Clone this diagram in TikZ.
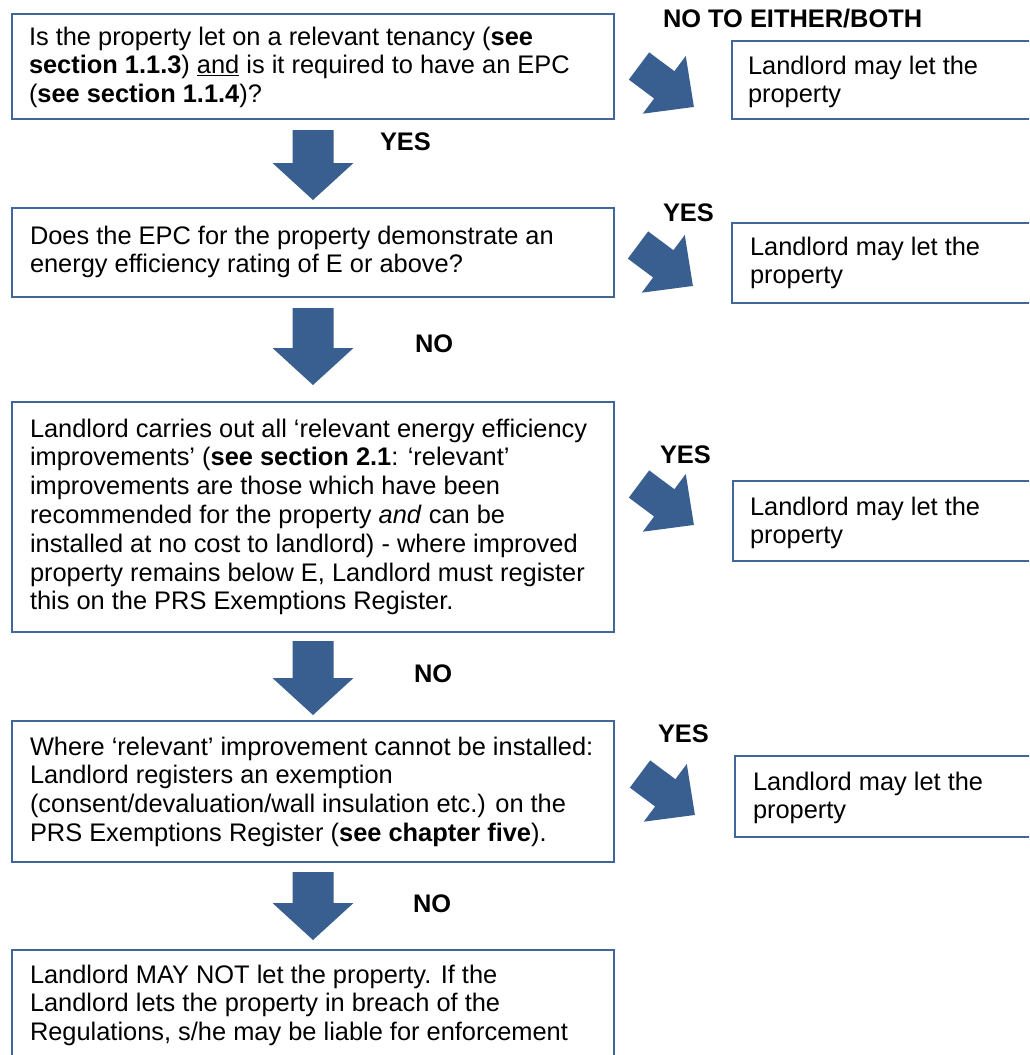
\documentclass[tikz,border=0pt]{standalone}
\usepackage{fontspec}
\setmainfont{Liberation Sans}
\usetikzlibrary{calc}
\definecolor{boxblue}{RGB}{65,103,154}
\definecolor{arrowblue}{RGB}{56,95,143}
\tikzset{
  box/.style={draw=boxblue, line width=2.5pt, rectangle, inner sep=0pt, outer sep=0pt, anchor=north west},
  txt/.style={anchor=north west, inner sep=0pt, outer sep=0pt, align=left, font=\fontsize{25.4}{28.8}\selectfont},
  lbl/.style={anchor=base west, inner sep=0pt, outer sep=0pt, font=\fontsize{25.4}{28.8}\selectfont\bfseries},
  pics/diagarrow/.style={code={\fill[arrowblue] (0,-17) -- (31.5,-17) -- (31.5,-36) -- (68.5,0) -- (31.5,36) -- (31.5,17) -- (0,17) -- cycle;}}
}
\newcommand\blockdown[2]{%
  \fill[arrowblue] let \p1=#1, \p2=#2 in
    (\x1-20.5pt,\y1) -- (\x1+20.5pt,\y1) -- (\x1+20.5pt,\y2+37pt) -- (\x1+40.5pt,\y2+37pt)
    -- (\x1,\y2) -- (\x1-40.5pt,\y2+37pt) -- (\x1-20.5pt,\y2+37pt) -- cycle;}
\newcommand\mrule{\rule{0pt}{20pt}}
\begin{document}
\begin{tikzpicture}[x=1pt,y=-1pt]
\useasboundingbox (0,0) rectangle (1029,1055);
\clip (0,0) rectangle (1029,1055);
\fill[white] (0,0) rectangle (1029,1055);

% main boxes
\node[box, minimum width=602pt, minimum height=105pt] (q1) at (12,14) {};
\node[box, minimum width=602pt, minimum height=89pt]  (q2) at (12,208) {};
\node[box, minimum width=602pt, minimum height=230pt] (q3) at (12,402) {};
\node[box, minimum width=602pt, minimum height=141pt] (q4) at (12,721) {};
\node[box, minimum width=602pt, minimum height=130pt] (q5) at (12,950) {};

% right boxes
\node[box, minimum width=308pt, minimum height=78pt] (r1) at (732,41) {};
\node[box, minimum width=308pt, minimum height=80pt] (r2) at (732,223) {};
\node[box, minimum width=307pt, minimum height=80pt] (r3) at (733,481) {};
\node[box, minimum width=305pt, minimum height=81pt] (r4) at (735,756) {};

% texts
\node[txt] (t1) at (29,25) {\mrule Is the property let on a relevant tenancy (\textbf{see}\\\textbf{section 1.1.3}) \underline{and} is it required to have an EPC\\(\textbf{see section 1.1.4})?};
\node[txt] (t2) at (30,224) {\mrule Does the EPC for the property demonstrate an\\energy efficiency rating of E or above?};
\node[txt] (t3) at (30,417) {\mrule Landlord carries out all ‘relevant energy efficiency\\improvements’ (\textbf{see section 2.1}: ‘relevant’\\improvements are those which have been\\recommended for the property \textit{and} can be\\installed at no cost to landlord) - where improved\\property remains below E, Landlord must register\\this on the PRS Exemptions Register.};
\node[txt] (t4) at (30,735) {\mrule Where ‘relevant’ improvement cannot be installed:\\Landlord registers an exemption\\(consent/devaluation/wall insulation etc.) on the\\PRS Exemptions Register (\textbf{see chapter five}).};
\node[txt] (t5) at (30,963) {\mrule Landlord MAY NOT let the property. If the\\Landlord lets the property in breach of the\\Regulations, s/he may be liable for enforcement};

\node[txt] (s1) at (748,54)  {\mrule Landlord may let the\\property};
\node[txt] (s2) at (750,235) {\mrule Landlord may let the\\property};
\node[txt] (s3) at (750,495) {\mrule Landlord may let the\\property};
\node[txt] (s4) at (753,770) {\mrule Landlord may let the\\property};

% labels
\node[lbl] (l1) at (663,27)  {NO TO EITHER/BOTH};
\node[lbl] (l2) at (380,150) {YES};
\node[lbl] (l3) at (663,221) {YES};
\node[lbl] (l4) at (415,352) {NO};
\node[lbl] (l5) at (660,463) {YES};
\node[lbl] (l6) at (414,682) {NO};
\node[lbl] (l7) at (658,742) {YES};
\node[lbl] (l8) at (413,912) {NO};

% down block arrows
\blockdown{($(q1.south)+(0,11)$)}{($(q2.north)+(0,-8)$)}
\blockdown{($(q2.south)+(0,11)$)}{($(q3.north)+(0,-17)$)}
\blockdown{($(q3.south)+(0,9)$)}{($(q4.north)+(0,-6)$)}
\blockdown{($(q4.south)+(0,10)$)}{($(q5.north)+(0,-10)$)}

% diagonal block arrows
\pic[rotate=-36.7] at (639,66)  {diagarrow};
\pic[rotate=-36.7] at (638,245) {diagarrow};
\pic[rotate=-36.7] at (639,484) {diagarrow};
\pic[rotate=-36.7] at (640,774) {diagarrow};
\end{tikzpicture}
\end{document}
